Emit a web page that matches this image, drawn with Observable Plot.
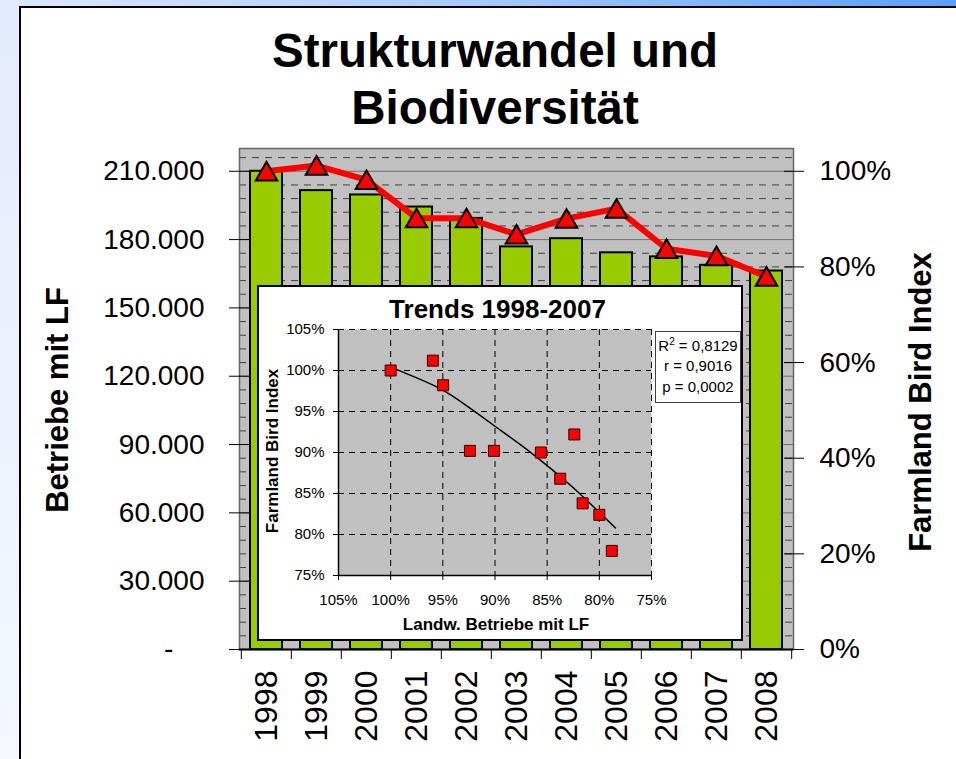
<!DOCTYPE html>
<html>
<head>
<meta charset="utf-8">
<script src="https://cdn.jsdelivr.net/npm/d3@7"></script>
<script src="https://cdn.jsdelivr.net/npm/@observablehq/plot@0.6"></script>
<style>
html,body{margin:0;padding:0;}
body{width:956px;height:759px;position:relative;overflow:hidden;font-family:"Liberation Sans",Arial,sans-serif;background:#fff;color:#000;}
#topbar{position:absolute;left:0;top:0;width:956px;height:6px;background:linear-gradient(to right,#dde8fe,#a7c9fd 50%,#5aa0f8);}
#leftbar{position:absolute;left:0;top:0;width:19px;height:759px;background:linear-gradient(to bottom,#e2ebfd,#f5f8fe);}
#panel{position:absolute;left:19px;top:6px;right:0;bottom:0;border-left:2px solid #000;border-top:2px solid #000;background:#fff;}
#title{position:absolute;left:0;width:990px;top:22px;text-align:center;font-weight:bold;font-size:47.5px;line-height:57px;white-space:nowrap;}
#main{position:absolute;left:0;top:140px;}
.vlabel{position:absolute;white-space:nowrap;font-weight:bold;line-height:1.117;transform:translate(-50%,-50%) rotate(-90deg);}
#ylabL{left:58px;top:400px;font-size:31px;}
#ylabR{left:921px;top:402px;font-size:31px;}
#inset{position:absolute;left:257px;top:285px;width:486px;height:356px;box-sizing:border-box;border:2px solid #000;background:#fff;}
#insetPlot{position:absolute;left:0;top:0;}
#insetTitle{position:absolute;left:0;width:477px;top:7px;text-align:center;font-weight:bold;font-size:26px;line-height:30px;white-space:nowrap;}
#insetXLab{position:absolute;left:0;width:474px;top:328px;text-align:center;font-weight:bold;font-size:17px;line-height:20px;white-space:nowrap;}
#insetYLab{left:13px;top:164px;font-size:17px;}
#stats{position:absolute;left:396px;top:44px;width:86px;height:72px;box-sizing:border-box;border:1.5px solid #404040;background:#fff;text-align:center;font-size:15px;line-height:20.5px;padding-top:3.75px;white-space:nowrap;}
#stats sup{font-size:10px;line-height:0;vertical-align:6px;}
</style>
</head>
<body>
<div id="topbar"></div>
<div id="leftbar"></div>
<div id="panel"></div>
<div id="title"></div>
<div id="main"></div>
<div class="vlabel" id="ylabL"></div>
<div class="vlabel" id="ylabR"></div>
<div id="inset">
  <div id="insetPlot"></div>
  <div id="insetTitle"></div>
  <div id="insetXLab"></div>
  <div class="vlabel" id="insetYLab"></div>
  <div id="stats"></div>
</div>
<script>
// ---------- data ----------
const titleLines = ["Strukturwandel und", "Biodiversität"];
const leftAxisTitle = "Betriebe mit LF";
const rightAxisTitle = "Farmland Bird Index";
const years = ["1998","1999","2000","2001","2002","2003","2004","2005","2006","2007","2008"];
const betriebe = [210000, 201500, 199600, 194300, 189300, 176800, 180400, 174200, 172400, 168700, 166200];
const fbi = [100, 101.2, 98.2, 90.2, 90.2, 86.8, 90.1, 92.2, 83.8, 82.3, 78.0];
const leftTicks = [0, 30000, 60000, 90000, 120000, 150000, 180000, 210000];
const rightTicks = [0, 20, 40, 60, 80, 100];
const leftMax = 220000;
const minorStep = 6000;

const insetTitle = "Trends 1998-2007";
const insetXTitle = "Landw. Betriebe mit LF";
const insetYTitle = "Farmland Bird Index";
const insetX = [100, 95.95, 94.97, 92.4, 90.1, 83.75, 85.6, 82.4, 81.6, 80.0, 78.8];
const insetY = [100, 101.2, 98.2, 90.2, 90.2, 86.8, 90.0, 92.2, 83.8, 82.4, 78.0];
const trendX = [100.16, 97.5, 95, 92.5, 90, 87.5, 85, 82.5, 80, 78.45];
const trendY = [100.5, 99.1, 97.6, 95.5, 93.2, 90.9, 88.4, 85.7, 82.7, 80.8];
const insetTicks = [75, 80, 85, 90, 95, 100, 105];
const statNames = ["R<sup>2</sup>", "r", "p"];
const statValues = ["0,8129", "0,9016", "0,0002"];

// ---------- text ----------
document.getElementById("title").innerHTML = titleLines.join("<br>");
document.getElementById("ylabL").textContent = leftAxisTitle;
document.getElementById("ylabR").textContent = rightAxisTitle;
document.getElementById("insetTitle").textContent = insetTitle;
document.getElementById("insetXLab").textContent = insetXTitle;
document.getElementById("insetYLab").textContent = insetYTitle;
document.getElementById("stats").innerHTML = statNames.map((n, i) => `${n} = ${statValues[i]}`).join("<br>");

const FONT = "'Liberation Sans', Arial, sans-serif";

// ---------- main chart ----------
const LF_PER_PCT = leftTicks[leftTicks.length - 1] / rightTicks[rightTicks.length - 1]; // 100% aligned with 210.000
const W = 956, H = 619, ML = 239, MR = 163, MT = 8, MB = 110;
const step = (W - ML - MR) / years.length;
const mainData = years.map((year, i) => ({year, betriebe: betriebe[i], fbiLF: fbi[i] * LF_PER_PCT}));
const minor = d3.range(minorStep, leftMax, minorStep).filter(v => v % 30000 !== 0);
const fmtDE = d => d === 0 ? "-\u00a0\u00a0\u00a0\u00a0" : d3.format(",")(d).replace(/,/g, ".");
const rightTicksLF = rightTicks.map(p => p * LF_PER_PCT);

const chart = Plot.plot({
  width: W, height: H,
  marginLeft: ML, marginRight: MR, marginTop: MT, marginBottom: MB,
  style: {fontFamily: FONT, background: "none", color: "#000", overflow: "visible"},
  x: {type: "band", domain: years, paddingInner: 0.365, paddingOuter: 0.1825, label: null},
  y: {domain: [0, leftMax], label: null},
  marks: [
    Plot.frame({fill: "#c0c0c0", stroke: "none"}),
    Plot.ruleY(minor, {stroke: "#404040", strokeWidth: 1, strokeDasharray: "7,6"}),
    Plot.ruleY(leftTicks.filter(d => d > 0), {stroke: "#6e6e6e", strokeWidth: 1}),
    Plot.barY(mainData, {x: "year", y: "betriebe", fill: "#99cc00", stroke: "#000", strokeWidth: 2}),
    Plot.lineY(mainData, {x: "year", y: "fbiLF", stroke: "#ff0000", strokeWidth: 6}),
    Plot.dot(mainData, {x: "year", y: "fbiLF", symbol: "triangle", r: 8, dy: 3, fill: "#ff0000", stroke: "#000", strokeWidth: 2}),
    Plot.frame({stroke: "#666", strokeWidth: 1.5}),
    Plot.ruleY([0], {stroke: "#000", strokeWidth: 2}),
    Plot.axisY(leftTicks, {anchor: "left", tickSize: 20, dx: 10, fill: "none", label: null}),
    Plot.axisY(leftTicks, {anchor: "left", tickSize: 0, tickPadding: 35, tickFormat: fmtDE, fontSize: 28, label: null}),
    Plot.axisY(rightTicksLF, {anchor: "right", tickSize: 20, dx: -10, fill: "none", label: null}),
    Plot.axisY(rightTicksLF, {anchor: "right", tickSize: 0, tickPadding: 26, tickFormat: d => Math.round(d / LF_PER_PCT) + "%", fontSize: 28, label: null}),
    Plot.axisX(years, {tickSize: 10, dx: -step / 2, fill: "none", label: null}),
    Plot.axisX([years[years.length - 1]], {tickSize: 10, dx: step / 2, fill: "none", label: null}),
    Plot.axisX(years, {tickSize: 0, tickPadding: 21, tickRotate: -90, fontSize: 32, label: null})
  ]
});
document.getElementById("main").appendChild(chart);

// ---------- inset ----------
const insetPts = insetX.map((x, i) => ({x, y: insetY[i]}));
const trend = trendX.map((x, i) => ({x, y: trendY[i]}));
const insetChart = Plot.plot({
  width: 482, height: 352,
  marginLeft: 79, marginRight: 90, marginTop: 42, marginBottom: 64,
  style: {fontFamily: FONT, background: "none", color: "#000", overflow: "visible"},
  x: {domain: [105, 75], label: null},
  y: {domain: [75, 105], label: null},
  marks: [
    Plot.frame({fill: "#c0c0c0", stroke: "none"}),
    Plot.ruleX(insetTicks, {stroke: "#000", strokeWidth: 1, strokeDasharray: "6,5"}),
    Plot.ruleY(insetTicks, {stroke: "#000", strokeWidth: 1, strokeDasharray: "6,5"}),
    Plot.line(trend, {x: "x", y: "y", curve: "natural", stroke: "#000", strokeWidth: 1.5}),
    Plot.dot(insetPts, {x: "x", y: "y", symbol: "square", r: 6.2, fill: "#ff0000", stroke: "#300", strokeWidth: 1}),
    Plot.ruleX([105], {stroke: "#000", strokeWidth: 1.5}),
    Plot.ruleY([75], {stroke: "#000", strokeWidth: 1.5}),
    Plot.axisX(insetTicks, {tickSize: 5, tickPadding: 14, tickFormat: d => d + "%", fontSize: 15, label: null}),
    Plot.axisY(insetTicks, {tickSize: 5, tickPadding: 9, tickFormat: d => d + "%", fontSize: 15, label: null})
  ]
});
document.getElementById("insetPlot").appendChild(insetChart);
</script>
</body>
</html>
